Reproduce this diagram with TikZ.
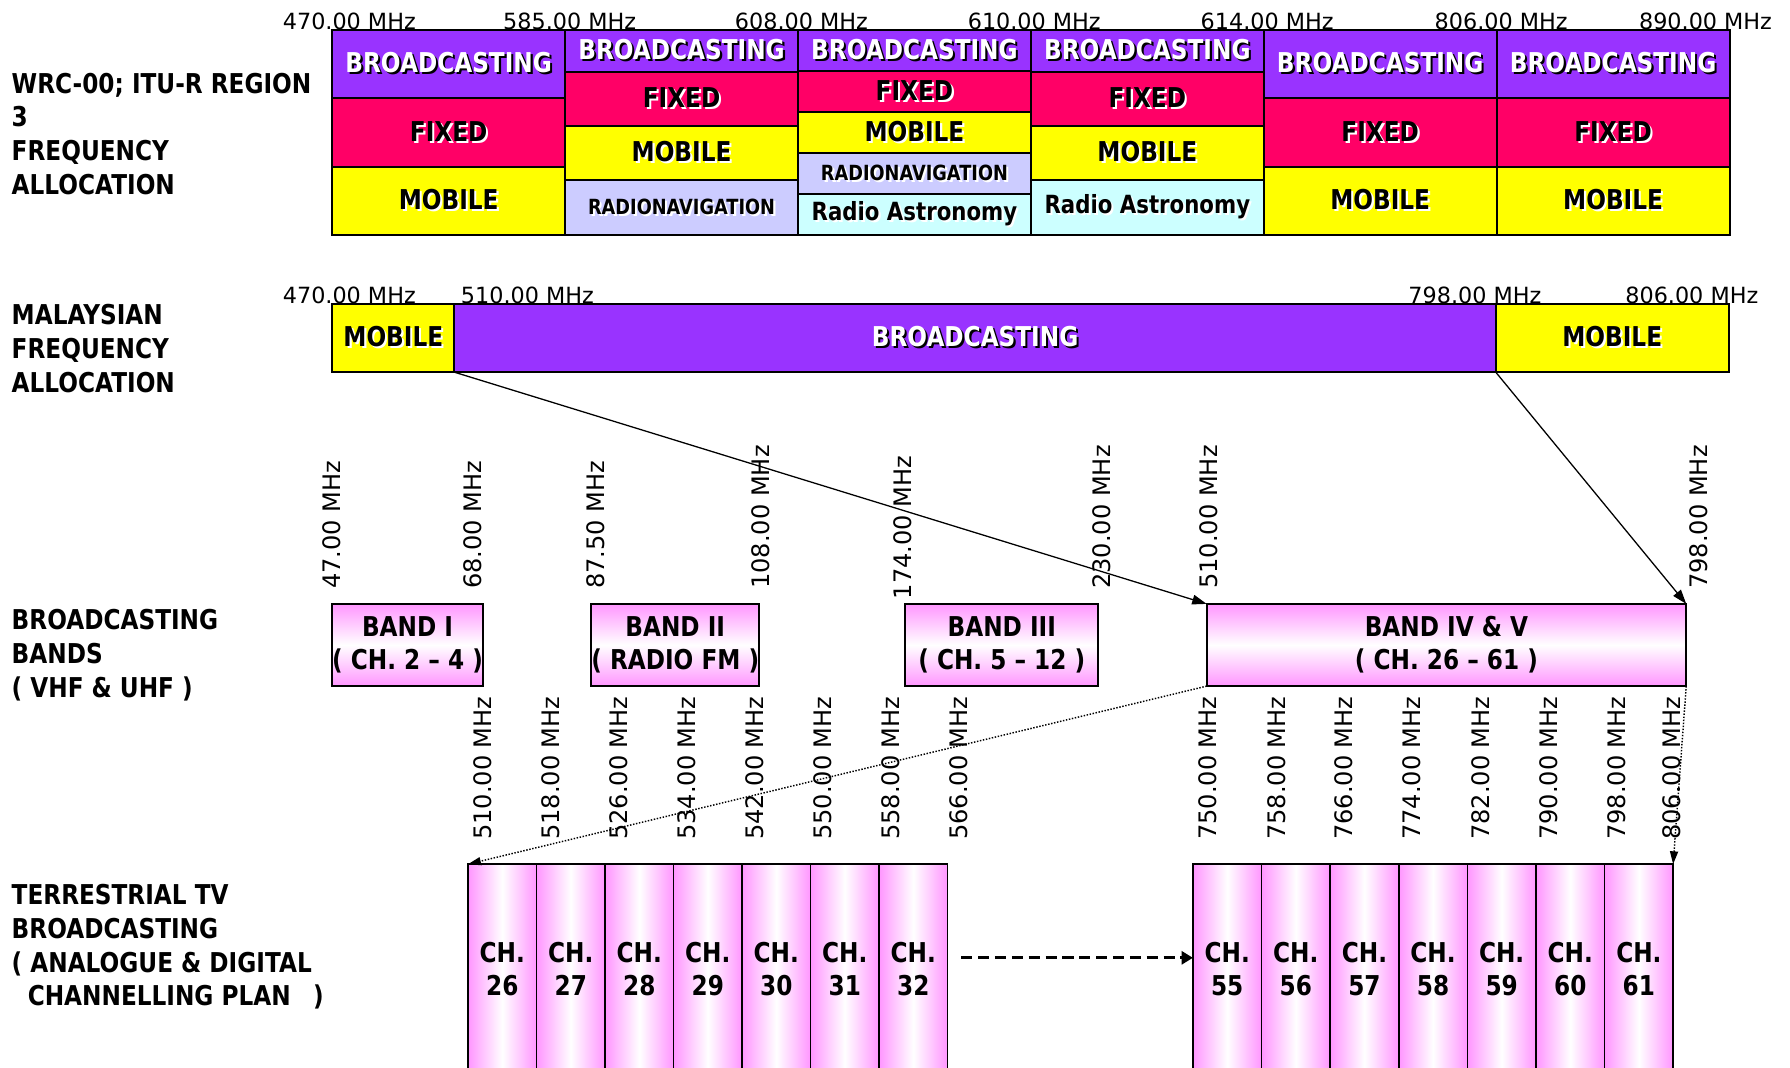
\documentclass[tikz,border=0pt]{standalone}
\usepackage{fontspec}
\setmainfont{DejaVu Sans}
\newfontfamily\hdfont[FakeStretch=0.85]{DejaVu Sans}
\usepackage{xcolor}
\usepackage{tikz}
\usetikzlibrary{arrows.meta,positioning}

\definecolor{bcast}{RGB}{153,51,255}
\definecolor{fixedc}{RGB}{255,0,102}
\definecolor{mobilec}{RGB}{255,255,0}
\definecolor{radnav}{RGB}{204,204,255}
\definecolor{radast}{RGB}{204,255,255}
\definecolor{pinkc}{RGB}{255,150,255}

% text with a small drop shadow
\newcommand{\shad}[2]{\leavevmode\rlap{\kern1.3pt\raisebox{-1.3pt}{\color{#1}#2}}#2}

\tikzset{
  cell/.style={draw, line width=1.2pt, inner sep=0pt, outer sep=0pt, minimum width=5.1cm,
    font=\hdfont\bfseries\fontsize{17}{21}\selectfont},
  bc/.style={cell, fill=bcast, text=white},
  fx/.style={cell, fill=fixedc},
  mb/.style={cell, fill=mobilec},
  rn/.style={cell, fill=radnav, font=\hdfont\bfseries\fontsize{13}{16}\selectfont},
  ra/.style={cell, fill=radast, font=\hdfont\bfseries\fontsize{15.6}{18}\selectfont},
  freq/.style={font=\fontsize{13.9}{16}\selectfont, inner sep=0pt, anchor=base},
  vfreq/.style={font=\fontsize{15}{17}\selectfont, inner sep=0pt, rotate=90, anchor=west},
  side/.style={font=\hdfont\bfseries\fontsize{17}{21}\selectfont, align=left,
    inner sep=0pt, anchor=north west},
  band/.style={draw, line width=1.2pt, inner sep=0pt, outer sep=0pt, minimum height=1.8cm,
    anchor=north west, top color=pinkc, bottom color=pinkc, middle color=white,
    align=center, font=\hdfont\bfseries\fontsize{17}{20.6}\selectfont},
  chan/.style={draw, line width=0.9pt, inner sep=0pt, outer sep=0pt, minimum width=1.5cm,
    minimum height=4.6cm, anchor=north west, left color=pinkc, right color=pinkc,
    middle color=white, align=center, font=\hdfont\bfseries\fontsize{17}{20.6}\selectfont},
  link/.style={line width=0.8pt, -{Triangle[length=9pt,width=6pt]}},
  dotlink/.style={line width=0.9pt, densely dotted, -{Triangle[length=8pt,width=5pt]}},
  dashlink/.style={line width=2pt, dash pattern=on 7pt off 3.5pt,
    -{Triangle[length=7pt,width=8pt]}},
}

\begin{document}
\begin{tikzpicture}[x=0.025cm,y=-0.025cm]
  \useasboundingbox (0,0) rectangle (1568,935);

  % side titles
  \node[side] (lwrc) at (10,63.5) {WRC-00; ITU-R REGION\\3\\FREQUENCY\\ALLOCATION};
  \node[side] (lmal) at (10,266.5) {MALAYSIAN\\FREQUENCY\\ALLOCATION};
  \node[side] (lband) at (10,533.5) {BROADCASTING\\BANDS\\( VHF \& UHF )};
  \node[side] (lterr) at (10,774.5) {TERRESTRIAL TV\\BROADCASTING\\( ANALOGUE \& DIGITAL\\\hspace*{10pt}CHANNELLING PLAN\hspace{14pt})};

  % WRC-00 table
  \node[bc, minimum height=1.5cm, anchor=north west] (wb1) at (291,26) {\shad{black}{BROADCASTING}};
  \node[fx, minimum height=1.5cm, below=0pt of wb1] (wf1) {\shad{white}{FIXED}};
  \node[mb, minimum height=1.5cm, below=0pt of wf1] (wm1) {\shad{white}{MOBILE}};

  \node[bc, minimum height=0.925cm, anchor=north west] (wb2) at (495,26) {\shad{black}{BROADCASTING}};
  \node[fx, minimum height=1.175cm, below=0pt of wb2] (wf2) {\shad{white}{FIXED}};
  \node[mb, minimum height=1.2cm, below=0pt of wf2] (wm2) {\shad{white}{MOBILE}};
  \node[rn, minimum height=1.2cm, below=0pt of wm2] (wn2) {\shad{white}{RADIONAVIGATION}};

  \node[bc, minimum height=0.9cm, anchor=north west] (wb3) at (699,26) {\shad{black}{BROADCASTING}};
  \node[fx, minimum height=0.9cm, below=0pt of wb3] (wf3) {\shad{white}{FIXED}};
  \node[mb, minimum height=0.9cm, below=0pt of wf3] (wm3) {\shad{white}{MOBILE}};
  \node[rn, minimum height=0.9cm, below=0pt of wm3] (wn3) {\shad{white}{RADIONAVIGATION}};
  \node[ra, minimum height=0.9cm, below=0pt of wn3] (wa3) {\shad{white}{Radio Astronomy}};

  \node[bc, minimum height=0.925cm, anchor=north west] (wb4) at (903,26) {\shad{black}{BROADCASTING}};
  \node[fx, minimum height=1.175cm, below=0pt of wb4] (wf4) {\shad{white}{FIXED}};
  \node[mb, minimum height=1.2cm, below=0pt of wf4] (wm4) {\shad{white}{MOBILE}};
  \node[ra, minimum height=1.2cm, below=0pt of wm4] (wa4) {\shad{white}{Radio Astronomy}};

  \node[bc, minimum height=1.5cm, anchor=north west] (wb5) at (1107,26) {\shad{black}{BROADCASTING}};
  \node[fx, minimum height=1.5cm, below=0pt of wb5] (wf5) {\shad{white}{FIXED}};
  \node[mb, minimum height=1.5cm, below=0pt of wf5] (wm5) {\shad{white}{MOBILE}};

  \node[bc, minimum height=1.5cm, anchor=north west] (wb6) at (1311,26) {\shad{black}{BROADCASTING}};
  \node[fx, minimum height=1.5cm, below=0pt of wb6] (wf6) {\shad{white}{FIXED}};
  \node[mb, minimum height=1.5cm, below=0pt of wf6] (wm6) {\shad{white}{MOBILE}};

  \foreach \f/\x in {470/306,585/499,608/702,610/906,614/1110,806/1315,890/1494}
    \node[freq] (t\f) at (\x,26) {\f.00 MHz};

  % Malaysian allocation
  \node[mb, minimum width=2.675cm, minimum height=1.5cm, anchor=north west] (ym1) at (291,266) {\shad{white}{MOBILE}};
  \node[bc, minimum width=22.8cm, minimum height=1.5cm, right=0pt of ym1] (yb) {\shad{black}{BROADCASTING}};
  \node[mb, minimum height=1.5cm, right=0pt of yb] (ym2) {\shad{white}{MOBILE}};

  \foreach \f/\x in {470/306,510/462,798/1292,806/1482}
    \node[freq] (m\f) at (\x,266) {\f.00 MHz};

  % broadcasting bands
  \node[band, minimum width=3.3cm] (bI) at (291,529) {BAND I\\( CH. 2 – 4 )};
  \node[band, minimum width=3.625cm] (bII) at (518,529) {BAND II\\( RADIO FM )};
  \node[band, minimum width=4.225cm] (bIII) at (793,529) {BAND III\\( CH. 5 – 12 )};
  \node[band, minimum width=10.5cm] (bIV) at (1057,529) {BAND IV \& V\\( CH. 26 – 61 )};

  \node[vfreq] (v47) at (291,516) {47.00 MHz};
  \node[vfreq] (v68) at (414,516) {68.00 MHz};
  \node[vfreq] (v87) at (522,516) {87.50 MHz};
  \node[vfreq] (v108) at (666,516) {108.00 MHz};
  \node[vfreq] (v174) at (791,525) {174.00 MHz};
  \node[vfreq] (v230) at (965,516) {230.00 MHz};
  \node[vfreq] (v510) at (1059,516) {510.00 MHz};
  \node[vfreq] (v798) at (1488,516) {798.00 MHz};

  % channels
  \foreach \n [count=\i from 0] in {26,...,32}
    \node[chan] (ch\n) at (410+60*\i,757) {CH.\\\n};
  \foreach \n [count=\i from 0] in {55,...,61}
    \node[chan] (ch\n) at (1045+60.1*\i,757) {CH.\\\n};

  \foreach \f [count=\i from 0] in {510,518,...,566}
    \node[vfreq] (c\f) at (423+59.6*\i,736) {\f.00 MHz};
  \foreach \f/\x in {750/1058,758/1118,766/1177,774/1237,782/1297,790/1357,798/1416,806/1464}
    \node[vfreq] (c\f) at (\x,736) {\f.00 MHz};

  % connectors
  \draw[link] (ym1.south east) -- (bIV.north west);
  \draw[link] (ym2.south west) -- (bIV.north east);
  \draw[dotlink] (bIV.south west) -- (ch26.north west);
  \draw[dotlink] (bIV.south east) -- (ch61.north east);
  \draw[dashlink, shorten <=0.3cm, transform canvas={yshift=0.25cm}] (ch32.east) -- (ch55.west);
\end{tikzpicture}
\end{document}
